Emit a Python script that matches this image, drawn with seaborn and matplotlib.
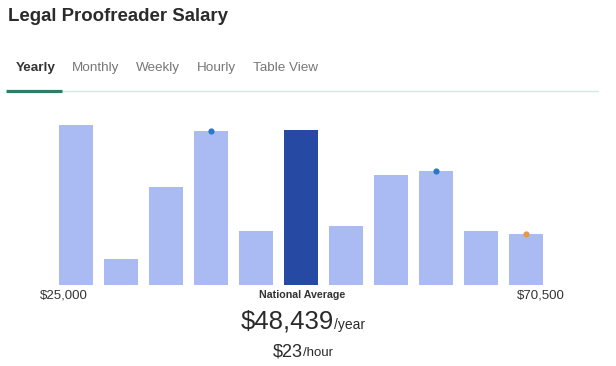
import matplotlib
matplotlib.use("Agg")
import matplotlib.pyplot as plt
import pandas as pd
import seaborn as sns
from matplotlib.lines import Line2D

W, H = 616, 366

# salary distribution bins (relative heights)
bins = [f"b{i}" for i in range(11)]
heights = [160, 26, 98, 154, 54, 155, 59, 110, 114, 54, 51]
highlight_bin = 5
marker_bins = [3, 8, 10]
marker_colors = ["#2a78c7", "#2a78c7", "#e39a45"]

tabs = ["Yearly", "Monthly", "Weekly", "Hourly", "Table View"]
tab_x = [16, 72, 136, 197, 253]

LIGHT = "#aabbf3"
DARK = "#2649a3"


def fx(x):
    return x / W


def fy(y):
    return 1 - y / H


sns.set_theme(style="white")
plt.rcParams["font.family"] = ["Liberation Sans", "DejaVu Sans"]

fig = plt.figure(figsize=(W / 100, H / 100), dpi=100)
ax = fig.add_axes([fx(53.5), fy(285), 495 / W, 170 / H])

df = pd.DataFrame({"bin": bins, "height": heights})
palette = {b: (DARK if i == highlight_bin else LIGHT) for i, b in enumerate(bins)}
sns.barplot(data=df, x="bin", y="height", hue="bin", palette=palette,
            width=0.77, saturation=1, legend=False, linewidth=0, ax=ax)
for i, c in zip(marker_bins, marker_colors):
    ax.scatter([i], [heights[i]], s=20, color=c, zorder=5, linewidths=0)

ax.set_xlim(-0.5, len(bins) - 0.5)
ax.set_ylim(0, 170)
ax.axis("off")

# header
fig.text(fx(8), fy(21), "Legal Proofreader Salary", fontsize=13.4, fontweight="bold",
         color="#2b2b2b", va="baseline")
for name, x in zip(tabs, tab_x):
    first = name == tabs[0]
    fig.text(fx(x), fy(71), name, fontsize=9.7, va="baseline",
             color="#333333" if first else "#777777",
             fontweight="bold" if first else "normal")
fig.add_artist(Line2D([fx(62), fx(598)], [fy(91), fy(91)], color="#d5e8e4", lw=1))
fig.add_artist(Line2D([fx(6), fx(62)], [fy(90.5), fy(90.5)], color="#2e7d6b", lw=2.3,
                      solid_capstyle="butt"))

# axis labels
fig.text(fx(40), fy(299), "$25,000", fontsize=9.5, color="#333333", va="baseline")
fig.text(fx(565), fy(299), "$70,500", fontsize=9.5, color="#333333", va="baseline", ha="right")
fig.text(fx(302), fy(298), "National Average", fontsize=7.7, fontweight="bold",
         color="#333333", va="baseline", ha="center")

# national average figures
fig.text(fx(334), fy(329), "$48,439", fontsize=18.5, color="#2b2b2b", va="baseline", ha="right")
fig.text(fx(334), fy(329), "/year", fontsize=10, color="#2b2b2b", va="baseline")
fig.text(fx(303), fy(356), "$23", fontsize=13, color="#2b2b2b", va="baseline", ha="right")
fig.text(fx(303), fy(356), "/hour", fontsize=9.5, color="#2b2b2b", va="baseline")

fig.savefig("out.png", dpi=100, facecolor="white")
